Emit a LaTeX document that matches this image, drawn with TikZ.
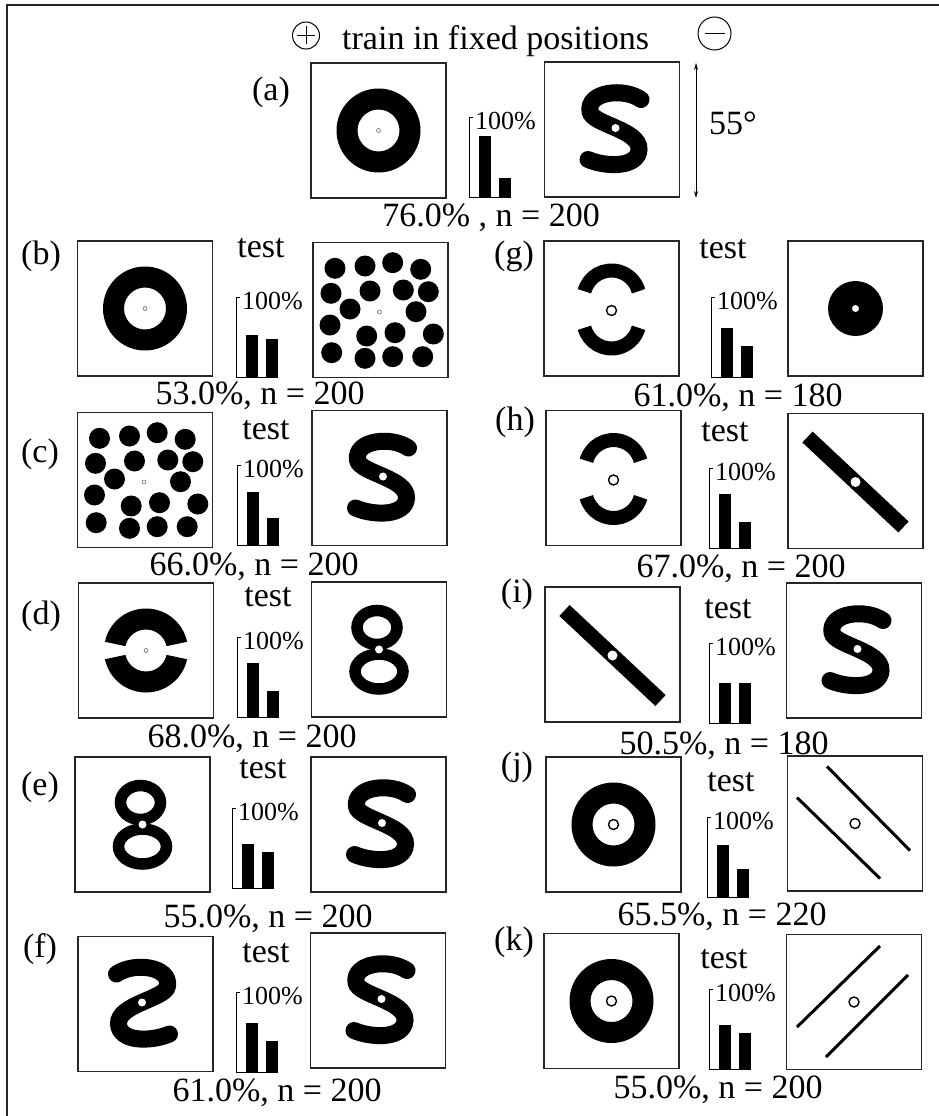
\documentclass[tikz,border=0pt]{standalone}
\usepackage{fontspec}
\setmainfont{Liberation Serif}
\usetikzlibrary{arrows.meta}
\tikzset{
  boxline/.style={line width=1.4pt, draw=black!85},
  axisline/.style={line width=1pt},
  lab/.style={font=\fontsize{34}{40}\selectfont, inner sep=0pt},
  pctlab/.style={font=\fontsize{26}{30}\selectfont, inner sep=0pt},
  panelbox/.pic={\draw[boxline] (-67.5,-67.5) rectangle (67.5,67.5);},
  ringfig/.pic={\fill[even odd rule] (0,0) circle (42) (0,0) circle (21);},
  fixtiny/.pic={\draw[black!60, line width=0.6pt] (0,0) circle (2);},
  fixopen/.pic={\fill[white] (0,0) circle (5); \draw[line width=1.4pt] (0,0) circle (5);},
  dotsfig/.pic={
    \foreach \a/\b in {-45.5/-41.7,-15.5/-44,12.2/-47.3,40.2/-40.7,
      -49.5/-16.7,-10.5/-19,22.8/-20,47.8/-18.3,
      -30.5/-1,35.5/1.7,
      -50.5/15,-13.8/26,14.5/22.7,52.8/24,
      -48.8/42.7,-15.5/48.3,12.2/46.7,42.2/46.7}
      {\fill (\a,\b) circle (10.5);}
    \draw[black!60, line width=0.6pt] (-1,2) circle (2);
  },
  sfig/.pic={
    \draw[line width=17pt, line cap=round]
      (29,-30) .. controls (12,-42) and (-25,-38) .. (-22,-18)
      .. controls (-20,-5) and (28,0) .. (27,20)
      .. controls (26,38) and (-5,38) .. (-24,30);
    \fill[white] (3.5,-1.5) circle (4);
  },
  sfigmirror/.pic={
    \draw[line width=17pt, line cap=round]
      (-29,-30) .. controls (-12,-42) and (25,-38) .. (22,-18)
      .. controls (20,-5) and (-28,0) .. (-27,20)
      .. controls (-26,38) and (5,38) .. (24,30);
    \fill[white] (-3.5,-1.5) circle (4);
  },
  eightfig/.pic={
    \draw[line width=11.5pt] (-2,-22) ellipse [x radius=20, y radius=17];
    \draw[line width=11.5pt] (0,22) ellipse [x radius=24, y radius=17.5];
    \fill[white] (0,0) circle (4);
  },
  brokenring/.pic={
    \fill (12:42) arc[start angle=12, end angle=168, radius=42]
      -- (168:21) arc[start angle=168, end angle=12, radius=21] -- cycle;
    \fill (192:42) arc[start angle=192, end angle=348, radius=42]
      -- (348:21) arc[start angle=348, end angle=192, radius=21] -- cycle;
    \draw[black!60, line width=0.6pt] (0,0) circle (2);
  },
  cpieces/.pic={
    \draw[line width=14pt] (0,-10) ++(195:28) arc[start angle=195, end angle=345, radius=28];
    \draw[line width=14pt] (0,12) ++(165:28) arc[start angle=165, end angle=15, radius=28];
    \draw[line width=1.4pt] (0,2) circle (5);
  },
  diskfig/.pic={\fill (0,0) circle (27.5); \fill[white] (0,0) circle (3.5);},
  barfig/.pic={\draw[line width=15pt] (-48,-44) -- (48,46); \fill[white] (0,1) circle (5);},
  linesdown/.pic={
    \draw[line width=3pt] (-58,-26) -- (25,55);
    \draw[line width=3pt] (-28,-57) -- (55,27);
    \draw[line width=1.4pt] (0,0) circle (5);
  },
  linesup/.pic={
    \draw[line width=3pt] (-57,25) -- (26,-56);
    \draw[line width=3pt] (-28,55) -- (54,-27);
    \draw[line width=1.4pt] (0,0) circle (5);
  }
}
\newcommand\figbox[3]{\pic at (#1,#2) {panelbox}; \pic at (#1,#2) {#3};}
\newcommand\barchart[4]{%
  \draw[axisline] ({#1+4},{#2-80}) -- (#1,{#2-80}) -- (#1,#2) -- ({#1+42},#2);
  \fill ({#1+10},#2) rectangle ({#1+22},{#2-0.8*#3});
  \fill ({#1+30},#2) rectangle ({#1+42},{#2-0.8*(100-#3)});
  \node[pctlab, anchor=base west] (#4) at ({#1+6},{#2-68}) {100\%};
}
\begin{document}
\begin{tikzpicture}[x=1pt,y=-1pt]
\useasboundingbox (0,0) rectangle (939,1116);
\fill[white] (0,0) rectangle (939,1116);
% frame
\draw[line width=2pt, black!85] (7,1116) -- (7,5) -- (939,5);
% title
\node[lab, anchor=base west] (title) at (342,50) {train in fixed positions};
\node[circle, draw, line width=1pt, minimum size=27pt, inner sep=0pt] (plus) at (306,35.5) {};
\draw[line width=1pt] ([xshift=-9pt]plus.center) -- ([xshift=9pt]plus.center)
  ([yshift=-9pt]plus.center) -- ([yshift=9pt]plus.center);
\node[circle, draw, line width=1pt, minimum size=33pt, inner sep=0pt] (minus) at (714.5,33.5) {};
\draw[line width=1pt] ([xshift=-10pt]minus.center) -- ([xshift=10pt]minus.center);
% 55 degree arrow
\coordinate (arrtop) at (696,63);
\coordinate (arrbot) at (696,198);
\draw[{Stealth[length=7pt,width=4pt]}-{Stealth[length=7pt,width=4pt]}, line width=0.8pt] (arrtop) -- (arrbot);
\node[lab, anchor=base west] (angle) at (709,134) {55°};

% (a)
\node[lab, anchor=base] (la) at (271,100) {(a)};
\figbox{378.5}{130.5}{ringfig} \pic at (378.5,130.5) {fixtiny};
\figbox{612}{129.5}{sfig}
\barchart{469}{197}{76}{ca}
\node[lab, anchor=base] (pa) at (491,226) {76.0\% , n = 200};

% (b)
\node[lab, anchor=base] (lb) at (41,264) {(b)};
\figbox{145}{308.5}{ringfig} \pic at (145,308.5) {fixtiny};
\figbox{380.5}{310}{dotsfig}
\barchart{236}{377}{53}{cb}
\node[lab, anchor=base] (tb) at (261,257) {test};
\node[lab, anchor=base] (pb) at (260,404) {53.0\%, n = 200};

% (c)
\node[lab, anchor=base] (lc) at (40,462) {(c)};
\figbox{145}{480}{dotsfig}
\figbox{379.5}{478}{sfig}
\barchart{237}{545}{66}{cc}
\node[lab, anchor=base] (tc) at (266,439) {test};
\node[lab, anchor=base] (pc) at (254,575) {66.0\%, n = 200};

% (d)
\node[lab, anchor=base] (ld) at (41,624) {(d)};
\figbox{146}{650.5}{brokenring}
\figbox{379}{649.5}{eightfig}
\barchart{237}{717}{68}{cd}
\node[lab, anchor=base] (td) at (268,606) {test};
\node[lab, anchor=base] (pd) at (252,747) {68.0\%, n = 200};

% (e)
\node[lab, anchor=base] (le) at (40,795) {(e)};
\figbox{142.5}{824.5}{eightfig}
\figbox{378.5}{824.5}{sfig}
\barchart{232}{888}{55}{ce}
\node[lab, anchor=base] (te) at (263,778) {test};
\node[lab, anchor=base] (pe) at (268,927) {55.0\%, n = 200};

% (f)
\node[lab, anchor=base] (lf) at (40,957) {(f)};
\figbox{145.5}{1004}{sfigmirror}
\figbox{378}{1000.5}{sfig}
\barchart{236}{1072}{61}{cf}
\node[lab, anchor=base] (tf) at (266,962) {test};
\node[lab, anchor=base] (pf) at (277,1101) {61.0\%, n = 200};

% (g)
\node[lab, anchor=base] (lg) at (514,264) {(g)};
\figbox{611.5}{308.5}{cpieces}
\figbox{855.5}{308.5}{diskfig}
\barchart{711}{377}{61}{cg}
\node[lab, anchor=base] (tg) at (723,258) {test};
\node[lab, anchor=base] (pg) at (738,406) {61.0\%, n = 180};

% (h)
\node[lab, anchor=base] (lh) at (515,430) {(h)};
\figbox{613.5}{478}{cpieces}
\figbox{855.5}{481}{barfig}
\barchart{709}{548}{67}{ch}
\node[lab, anchor=base] (th) at (725,441) {test};
\node[lab, anchor=base] (ph) at (741,577) {67.0\%, n = 200};

% (i)
\node[lab, anchor=base] (li) at (517,602) {(i)};
\figbox{612.5}{654.5}{barfig}
\figbox{854}{650.5}{sfig}
\barchart{709}{723}{50.5}{ci}
\node[lab, anchor=base] (ti) at (728,618) {test};
\node[lab, anchor=base] (pi) at (724,754) {50.5\%, n = 180};

% (j)
\node[lab, anchor=base] (lj) at (517,775) {(j)};
\figbox{613.5}{824.5}{ringfig} \pic at (613.5,824.5) {fixopen};
\figbox{855}{823.5}{linesdown}
\barchart{707}{897}{65.5}{cj}
\node[lab, anchor=base] (tj) at (731,791) {test};
\node[lab, anchor=base] (pj) at (722,925) {65.5\%, n = 220};

% (k)
\node[lab, anchor=base] (lk) at (514,950) {(k)};
\figbox{611.5}{1001}{ringfig} \pic at (611.5,1001) {fixopen};
\figbox{854}{1002}{linesup}
\barchart{709}{1069}{55}{ck}
\node[lab, anchor=base] (tk) at (724,968) {test};
\node[lab, anchor=base] (pk) at (718,1098) {55.0\%, n = 200};
\end{tikzpicture}
\end{document}
